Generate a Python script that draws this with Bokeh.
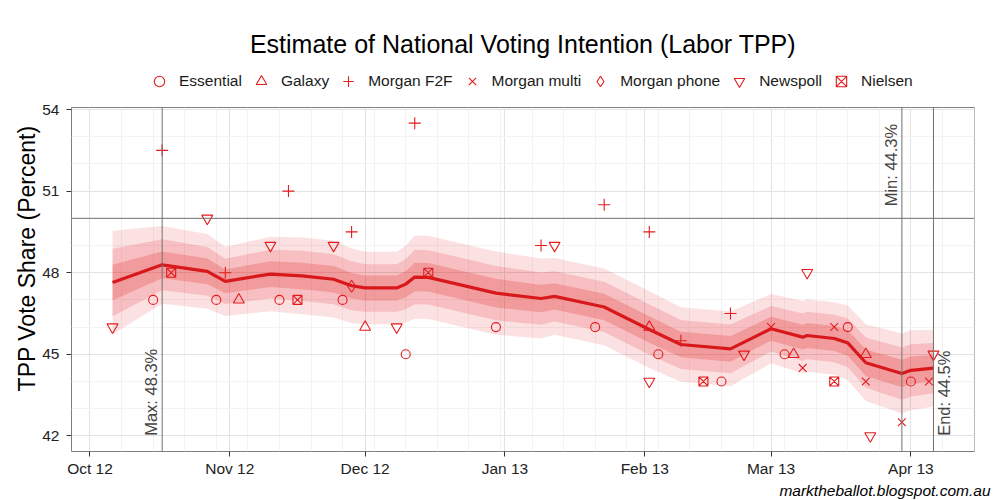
import numpy as np
import pandas as pd
from bokeh.plotting import figure
from bokeh.layouts import column
from bokeh.models import (Range1d, FixedTicker, DatetimeTickFormatter, Span, Label,
                          Legend, LegendItem, Title)
from bokeh.embed import file_html
from bokeh.resources import INLINE

# ---------------- data ----------------
trend_dates = ["2012-10-06", "2012-10-17", "2012-10-27", "2012-10-31", "2012-11-10",
               "2012-11-17", "2012-11-24", "2012-11-28", "2012-12-01", "2012-12-08",
               "2012-12-10", "2012-12-12", "2012-12-15", "2012-12-30", "2013-01-09",
               "2013-01-12", "2013-01-23", "2013-02-02", "2013-02-09", "2013-02-20",
               "2013-03-01", "2013-03-08", "2013-03-09", "2013-03-15", "2013-03-18",
               "2013-03-22", "2013-03-30", "2013-04-01", "2013-04-06"]
trend_vote = [47.64, 48.29, 48.05, 47.68, 47.95, 47.88, 47.76, 47.52, 47.44, 47.44,
              47.58, 47.84, 47.83, 47.25, 47.05, 47.13, 46.74, 45.91, 45.36, 45.20,
              45.94, 45.63, 45.69, 45.58, 45.42, 44.69, 44.29, 44.41, 44.49]
trend_sd = [0.97, 0.73, 0.70, 0.65, 0.70, 0.72, 0.72, 0.70, 0.68, 0.68,
            0.72, 0.78, 0.78, 0.78, 0.75, 0.72, 0.72, 0.72, 0.70, 0.70,
            0.65, 0.68, 0.68, 0.68, 0.70, 0.72, 0.75, 0.75, 0.72]

essential_dates = ["2012-10-15", "2012-10-29", "2012-11-12", "2012-11-26", "2012-12-10",
                   "2012-12-30", "2013-01-21", "2013-02-04", "2013-02-18", "2013-03-04",
                   "2013-03-18", "2013-04-01"]
essential_vote = [47, 47, 47, 47, 45, 46, 46, 45, 44, 45, 46, 44]

galaxy_dates = ["2012-11-03", "2012-12-01", "2013-02-02", "2013-03-06", "2013-03-22"]
galaxy_vote = [47, 46, 46, 45, 45]

f2f_dates = ["2012-10-17", "2012-10-31", "2012-11-14", "2012-11-28", "2012-12-12",
             "2013-01-09", "2013-01-23", "2013-02-02", "2013-02-09", "2013-02-20"]
f2f_vote = [52.5, 48, 51, 49.5, 53.5, 49, 50.5, 49.5, 45.5, 46.5]

multi_dates = ["2013-03-01", "2013-03-08", "2013-03-15", "2013-03-22", "2013-03-30", "2013-04-05"]
multi_vote = [46, 44.5, 46, 44, 42.5, 44]

phone_dates = ["2012-11-28"]
phone_vote = [47.5]

newspoll_dates = ["2012-10-06", "2012-10-27", "2012-11-10", "2012-11-24", "2012-12-08",
                  "2013-01-12", "2013-02-02", "2013-02-23", "2013-03-09", "2013-03-23",
                  "2013-04-06"]
newspoll_vote = [46, 50, 49, 49, 46, 49, 44, 45, 48, 42, 45]

nielsen_dates = ["2012-10-19", "2012-11-16", "2012-12-15", "2013-02-14", "2013-03-15"]
nielsen_vote = [48, 47, 48, 44, 44]

houses = ["Essential", "Galaxy", "Morgan F2F", "Morgan multi", "Morgan phone", "Newspoll", "Nielsen"]
house_dates = [essential_dates, galaxy_dates, f2f_dates, multi_dates, phone_dates,
               newspoll_dates, nielsen_dates]
house_votes = [essential_vote, galaxy_vote, f2f_vote, multi_vote, phone_vote,
               newspoll_vote, nielsen_vote]

month_ticks = ["2012-10-01", "2012-11-01", "2012-12-01", "2013-01-01",
               "2013-02-01", "2013-03-01", "2013-04-01"]
y_ticks = [42, 45, 48, 51, 54]
majority_line = 50

TITLE = "Estimate of National Voting Intention (Labor TPP)"
Y_TITLE = "TPP Vote Share (Percent)"
WATERMARK = "marktheballot.blogspot.com.au"

# ---------------- styles ----------------
RED = "#e41a1c"
FONT = "Liberation Sans"
markers = ["circle", "triangle", "cross", "x", "diamond", "inverted_triangle", "square_x"]
msizes = [9, 11, 12, 11, 12, 11, 9]

W = 1000
HEAD_H = 96
MAIN_H = 404
FRAME_L, FRAME_R, FRAME_T = 71, 26, 11


def to_ms(dates):
    return (pd.to_datetime(pd.Series(dates)).astype("int64") // 10**6).astype(float).values


tx = pd.to_datetime(pd.Series(trend_dates))
tv = np.array(trend_vote)
tsd = np.array(trend_sd)

all_ms = np.concatenate([to_ms(d) for d in house_dates] + [to_ms(trend_dates)])
all_v = np.concatenate([np.array(v, float) for v in house_votes])
xlo, xhi = all_ms.min(), all_ms.max()
xpad = 0.05 * (xhi - xlo)
ylo, yhi = all_v.min(), all_v.max()
ypad = 0.05 * (yhi - ylo)

# ---------------- header: title + legend (frame aligned with main plot) ----------------
head = figure(width=W, height=HEAD_H, x_range=Range1d(0, 1), y_range=Range1d(0, 1),
              x_axis_location=None, y_axis_location=None, title=None,
              output_backend="svg", toolbar_location=None, min_border=0)
head.outline_line_color = None
head.grid.visible = False
head.add_layout(Label(x=(W - FRAME_L - FRAME_R) / 2, y=HEAD_H - 43,
                      x_units="screen", y_units="screen", text=TITLE,
                      text_align="center", text_baseline="middle",
                      text_font=FONT, text_font_size="25px", text_color="#000000"))

items = []
for name, m, s in zip(houses, markers, msizes):
    # legend key proxy (no visible point)
    r = head.scatter(x=[np.nan], y=[np.nan], marker=m, size=s, fill_color=None,
                     line_color=RED, line_width=1.1)
    items.append(LegendItem(label=name, renderers=[r]))
legend = Legend(items=items, orientation="horizontal", location=(146 - FRAME_L, 2),
                label_text_font=FONT, label_text_font_size="15.5px", label_text_color="#1a1a1a",
                label_standoff=7, glyph_width=26, glyph_height=26, spacing=6,
                padding=0, margin=0, border_line_alpha=0, background_fill_alpha=0)
head.add_layout(legend, "center")

# ---------------- main plot ----------------
p = figure(width=W, height=MAIN_H, x_axis_type="datetime",
           x_range=Range1d(xlo - xpad, xhi + xpad), y_range=Range1d(ylo - ypad, yhi + ypad),
           output_backend="svg", toolbar_location=None, title=None,
           min_border_left=FRAME_L, min_border_right=FRAME_R, min_border_top=FRAME_T,
           min_border_bottom=49)

p.background_fill_color = "white"
p.border_fill_color = "white"
p.outline_line_color = "#7f7f7f"
p.outline_line_width = 1

xt = FixedTicker(ticks=list(to_ms(month_ticks)),
                 minor_ticks=list(to_ms(pd.date_range("2012-09-24", "2013-04-29", freq="7D"))))
p.xaxis.ticker = xt
p.xgrid.ticker = xt
p.xaxis.formatter = DatetimeTickFormatter(months="%b %y", days="%b %y")
yt = FixedTicker(ticks=y_ticks, minor_ticks=list(range(40, 56)))
p.yaxis.ticker = yt
p.ygrid.ticker = yt

for ax in (p.xaxis, p.yaxis):
    ax.axis_line_color = None
    ax.major_tick_line_color = "#333333"
    ax.major_tick_out = 5
    ax.major_tick_in = 0
    ax.minor_tick_line_color = None
    ax.major_label_text_font = FONT
    ax.major_label_text_font_size = "15.5px"
    ax.major_label_text_color = "#222222"
p.xaxis.major_label_standoff = 3
p.yaxis.major_label_standoff = 7

p.add_layout(Title(text=Y_TITLE, align="right", text_font=FONT, text_font_size="23px",
                   text_font_style="normal", text_color="#000000", standoff=0, offset=18),
             "left")

for g in (p.xgrid, p.ygrid):
    g.grid_line_color = "#e2e2e2"
    g.grid_line_width = 1
    g.minor_grid_line_color = "#f3f3f3"
    g.minor_grid_line_width = 1

# credible bands (50 / 80 / 95 %) and trend line
zs = [1.96, 1.282, 0.674]
alphas = [0.13, 0.17, 0.22]
for z, a in zip(zs, alphas):
    p.varea(x=tx, y1=tv - z * tsd, y2=tv + z * tsd, fill_color=RED, fill_alpha=a)
p.line(x=tx, y=tv, line_color="#d7191c", line_width=3.2)

# polls
for name, d, v, m, s in zip(houses, house_dates, house_votes, markers, msizes):
    p.scatter(x=pd.to_datetime(pd.Series(d)), y=v, marker=m, size=s,
              fill_color=None, line_color=RED, line_width=1.1)

# reference lines and notes
imax = int(np.argmax(tv))
imin = int(np.argmin(tv))
iend = len(tv) - 1
tms = to_ms(trend_dates)
ref_col = "#707070"
for i in (imax, imin, iend):
    p.add_layout(Span(location=tms[i], dimension="height", line_color=ref_col, line_width=1))
p.add_layout(Span(location=majority_line, dimension="width", line_color=ref_col, line_width=1))

lab_kw = dict(text_font=FONT, text_font_size="16.5px", text_color="#444444", angle=np.pi / 2)
p.add_layout(Label(x=tms[imax], y=y_ticks[0], text=f"Max: {tv[imax]:.1f}%",
                   text_align="left", text_baseline="bottom", x_offset=-2, **lab_kw))
p.add_layout(Label(x=tms[imin], y=yhi + ypad - 0.6, text=f"Min: {tv[imin]:.1f}%",
                   text_align="right", text_baseline="bottom", x_offset=-2, **lab_kw))
p.add_layout(Label(x=tms[iend], y=y_ticks[0], text=f"End: {tv[iend]:.1f}%",
                   text_align="left", text_baseline="top", x_offset=2, **lab_kw))

p.add_layout(Title(text=WATERMARK, align="right", text_font=FONT, text_font_size="15.5px",
                   text_font_style="italic", text_color="#000000", standoff=0, offset=-16),
             "below")

layout = column(head, p, spacing=0)
open("out.html", "w").write(file_html(layout, INLINE))
